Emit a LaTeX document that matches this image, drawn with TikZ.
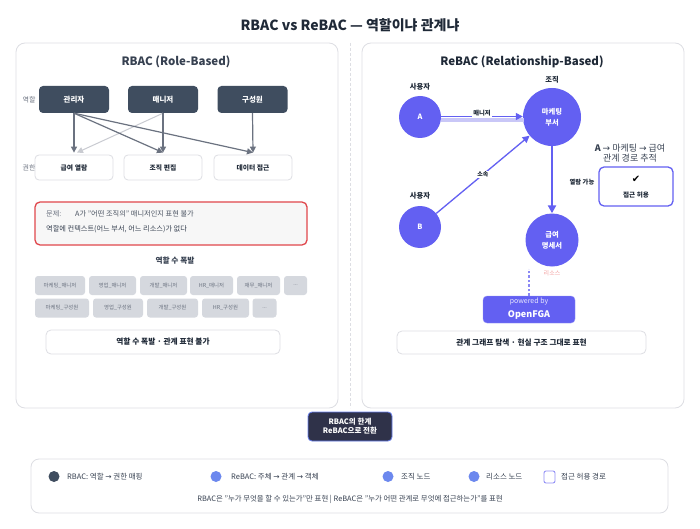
\documentclass[tikz,border=0pt]{standalone}
\usepackage{fontspec}
\setmainfont{Noto Sans CJK KR}
\newfontfamily\symfont{DejaVu Sans}
\usetikzlibrary{arrows.meta}
\definecolor{ink}{HTML}{1F2937}
\definecolor{txt}{HTML}{374151}
\definecolor{mute}{HTML}{6B7280}
\definecolor{slate}{HTML}{3F4D5F}
\definecolor{arrowg}{HTML}{6B7280}
\definecolor{arrowl}{HTML}{C9CBD1}
\definecolor{panelb}{HTML}{DDDEE3}
\definecolor{indigo}{HTML}{6360F2}
\definecolor{lav}{HTML}{C9C7F7}
\definecolor{redb}{HTML}{E0474C}
\definecolor{chipf}{HTML}{D5D8DE}
\definecolor{navy}{HTML}{2F3249}
\definecolor{corn}{HTML}{6C88EE}
\definecolor{pinkt}{HTML}{F4A3A3}
\tikzset{
  panel/.style={draw=panelb, line width=0.8pt, fill=white, rounded corners=9pt},
  rolebox/.style={fill=slate, rounded corners=4pt, minimum width=70pt, minimum height=27pt, text=white, font=\fontsize{7.5}{9}\selectfont\bfseries, inner sep=0pt},
  permbox/.style={draw=panelb, line width=0.8pt, fill=white, rounded corners=4pt, minimum width=78pt, minimum height=25pt, text=ink, font=\fontsize{6.8}{8}\selectfont\bfseries, inner sep=0pt},
  arr/.style={draw=arrowg, line width=1.2pt, -{Triangle[length=6pt,width=6pt]}},
  arrl/.style={draw=arrowl, line width=1pt, -{Triangle[length=6pt,width=6pt]}},
  small/.style={font=\fontsize{7.2}{8}\selectfont, text=mute, inner sep=0pt},
  chip/.style={fill=chipf, rounded corners=3pt, minimum height=19pt, text=mute, font=\fontsize{5.4}{6}\selectfont, inner sep=0pt},
  sumbox/.style={draw=panelb, line width=0.8pt, fill=white, rounded corners=5pt, text=ink, font=\fontsize{7.7}{9}\selectfont\bfseries, inner sep=0pt},
  circ/.style={circle, fill=indigo, text=white, font=\fontsize{7.3}{9}\selectfont\bfseries, inner sep=0pt, align=center},
  iarr/.style={draw=indigo, line width=1.3pt, -{Triangle[length=7pt,width=7pt]}},
  clabel/.style={font=\fontsize{7.3}{8}\selectfont\bfseries, text=ink, inner sep=0pt},
  leg/.style={font=\fontsize{7.5}{8}\selectfont, text=txt, anchor=west, inner sep=0pt},
}
\begin{document}
\begin{tikzpicture}[x=1pt,y=-1pt]
\useasboundingbox (0,0) rectangle (700,529);
\fill[white] (0,0) rectangle (700,529);

% title
\node[font=\fontsize{14}{16}\selectfont\bfseries, text=ink] (title) at (350,25) {RBAC vs ReBAC — 역할이냐 관계냐};

% panels
\node[panel, minimum width=322pt, minimum height=365pt] (lp) at (177,225.5) {};
\node[panel, minimum width=322pt, minimum height=365pt] (rp) at (523,225.5) {};
\coordinate (septop) at (350,43);
\coordinate (sepbot) at (350,408);
\draw[panelb, line width=1pt, dash pattern=on 3pt off 2pt] (septop) -- (sepbot);

% ===== left panel =====
\node[font=\fontsize{11.5}{13}\selectfont\bfseries, text=txt] (lt) at (176,62) {RBAC (Role-Based)};
\node[font=\fontsize{7}{8}\selectfont, text=mute, inner sep=0pt] (lrole) at (29,100) {역할};
\node[font=\fontsize{7}{8}\selectfont, text=mute, inner sep=0pt] (lperm) at (29,168) {권한};

\node[rolebox] (r1) at (74,99.5) {관리자};
\node[rolebox] (r2) at (163,99.5) {매니저};
\node[rolebox] (r3) at (252.5,99.5) {구성원};

\node[permbox] (p1) at (74,167.5) {급여 열람};
\node[permbox] (p2) at (163,167.5) {조직 편집};
\node[permbox] (p3) at (253,167.5) {데이터 접근};

\draw[arrl] (r2.south) -- ([xshift=3pt,yshift=2pt]p1.north);
\draw[arr] (r1.south) -- ([yshift=2pt]p1.north);
\draw[arr] (r1.south) -- ([yshift=2pt]p2.north);
\draw[arr] (r1.south) -- ([yshift=2pt]p3.north);
\draw[arr] (r2.south) -- ([yshift=2pt]p2.north);
\draw[arr] (r3.south) -- ([yshift=2pt]p3.north);

% problem box
\node[draw=redb, line width=1.3pt, fill=gray!6, rounded corners=5pt, minimum width=272pt, minimum height=43pt] (prob) at (171,223.5) {};
\node[small, anchor=west] (pr1) at (46,213.5) {문제:};
\node[small, anchor=west, text=txt!90] (pr2) at (75,213.5) {A가 "어떤 조직의" 매니저인지 표현 불가};
\node[small, anchor=west, text=txt] (pr3) at (46,229) {역할에 컨텍스트(어느 부서, 어느 리소스)가 없다};

\node[font=\fontsize{7.7}{9}\selectfont\bfseries, text=txt] (expl) at (175,261) {역할 수 폭발};

\node[chip, minimum width=50pt] (c1) at (60,285.5) {마케팅\_매니저};
\node[chip, minimum width=47pt] (c2) at (112.5,285.5) {영업\_매니저};
\node[chip, minimum width=47pt] (c3) at (163.5,285.5) {개발\_매니저};
\node[chip, minimum width=43pt] (c4) at (211.5,285.5) {HR\_매니저};
\node[chip, minimum width=43pt] (c5) at (258.5,285.5) {재무\_매니저};
\node[chip, minimum width=23pt] (c6) at (295.5,285.5) {...};
\node[chip, minimum width=54pt] (d1) at (62,308) {마케팅\_구성원};
\node[chip, minimum width=50pt] (d2) at (118,308) {영업\_구성원};
\node[chip, minimum width=51pt] (d3) at (172.5,308) {개발\_구성원};
\node[chip, minimum width=47pt] (d4) at (225.5,308) {HR\_구성원};
\node[chip, minimum width=24pt] (d5) at (264.5,308) {...};

\node[sumbox, minimum width=234pt, minimum height=24pt] (lsum) at (163,342) {역할 수 폭발 · 관계 표현 불가};

% ===== right panel =====
\node[font=\fontsize{11.5}{13}\selectfont\bfseries, text=ink] (rt) at (522,62) {ReBAC (Relationship-Based)};

\node[clabel] (ua) at (420,87) {사용자};
\node[circ, minimum size=42pt] (A) at (420,117) {A};
\node[clabel] (org) at (552,79.5) {조직};
\node[circ, minimum size=58pt] (M) at (552,117) {마케팅\\[2pt]부서};
\node[clabel] (ub) at (420,196) {사용자};
\node[circ, minimum size=42pt] (B) at (420,227) {B};
\node[circ, minimum size=53pt] (R) at (552,240) {급여\\[2pt]명세서};
\node[font=\fontsize{6}{7}\selectfont, text=pinkt, inner sep=0pt] (res) at (552,273.5) {리소스};

\draw[lav, line width=3.5pt] ([yshift=-3pt]A.east) -- ([yshift=-3pt,xshift=1pt]M.west);
\draw[iarr] ([yshift=0.5pt]A.east) -- node[fill=white, inner sep=1.5pt, yshift=3pt, font=\fontsize{6.3}{7}\selectfont\bfseries, text=ink] (lblm) {매니저} ([yshift=0.5pt]M.west);
\draw[iarr] (B) -- node[pos=0.5, fill=white, inner sep=1pt, font=\fontsize{6}{7}\selectfont\bfseries, text=ink] (lbls) {소속} (M);
\draw[indigo, line width=2pt, -{Triangle[length=8pt,width=8pt]}] (M) -- (R);

\node[font=\fontsize{6.3}{7}\selectfont\bfseries, text=ink, inner sep=0pt] (yl) at (582,182) {열람 가능};

\node[font=\fontsize{9}{10.5}\selectfont, text=txt, align=center, inner sep=0pt] (path) at (630,153) {{\bfseries\itshape A} {\symfont →} 마케팅 {\symfont →} 급여\\관계 경로 추적};
\node[draw=indigo, line width=1.3pt, fill=white, rounded corners=5pt, minimum width=74pt, minimum height=39pt] (ok) at (636,186.5) {};
\node[font=\fontsize{10}{10}\selectfont, inner sep=0pt] (chk) at (636,179) {\symfont ✔};
\node[font=\fontsize{6.6}{7}\selectfont\bfseries, text=ink, inner sep=0pt] (okt) at (636,195) {접근 허용};

\node[fill=indigo, draw=indigo!70!white, rounded corners=4pt, minimum width=92pt, minimum height=27pt, inner sep=0pt] (fga) at (529,309.5) {};
\node[font=\fontsize{7}{8}\selectfont, text=white!85!indigo, inner sep=0pt] (fga1) at (529,302) {powered by};
\node[font=\fontsize{9}{10}\selectfont\bfseries, text=white, inner sep=0pt] (fga2) at (529,315.5) {OpenFGA};
\draw[indigo!75, line width=1.2pt, dash pattern=on 2.5pt off 2pt] (fga.north) -- ++(0,-27) coordinate (dtop);

\node[sumbox, minimum width=249pt, minimum height=23pt] (rsum) at (521.5,342.5) {관계 그래프 탐색 · 현실 구조 그대로 표현};

% ===== middle =====
\node[fill=navy, draw=corn!80!indigo, line width=0.8pt, rounded corners=4pt, minimum width=84pt, minimum height=29pt, text=white, font=\fontsize{7.5}{9}\selectfont\bfseries, align=center, inner sep=0pt] (mid) at (350,426.5) {RBAC의 한계\\ReBAC으로 전환};

% ===== legend =====
\node[draw=panelb, line width=0.8pt, fill=white, rounded corners=8pt, minimum width=637pt, minimum height=54pt] (legbox) at (349.5,486) {};
\fill[slate] (54,476.5) circle (5.5pt);
\node[leg] (l1) at (67,477) {RBAC: 역할 {\symfont →} 권한 매핑};
\fill[corn] (216,476.5) circle (5.5pt);
\node[leg] (l2) at (231,477) {ReBAC: 주체 {\symfont →} 관계 {\symfont →} 객체};
\fill[corn] (388,476.5) circle (5.5pt);
\node[leg] (l3) at (401,477) {조직 노드};
\fill[corn] (474,476.5) circle (5.5pt);
\node[leg] (l4) at (486,477) {리소스 노드};
\draw[indigo!70, line width=0.9pt, fill=white, rounded corners=2pt] (544,471) rectangle (555,483);
\node[leg] (l5) at (561,477) {접근 허용 경로};
\node[font=\fontsize{7.4}{8}\selectfont, text=txt, inner sep=0pt] (foot) at (350,499) {RBAC은 "누가 무엇을 할 수 있는가"만 표현 | ReBAC은 "누가 어떤 관계로 무엇에 접근하는가"를 표현};
\end{tikzpicture}
\end{document}
